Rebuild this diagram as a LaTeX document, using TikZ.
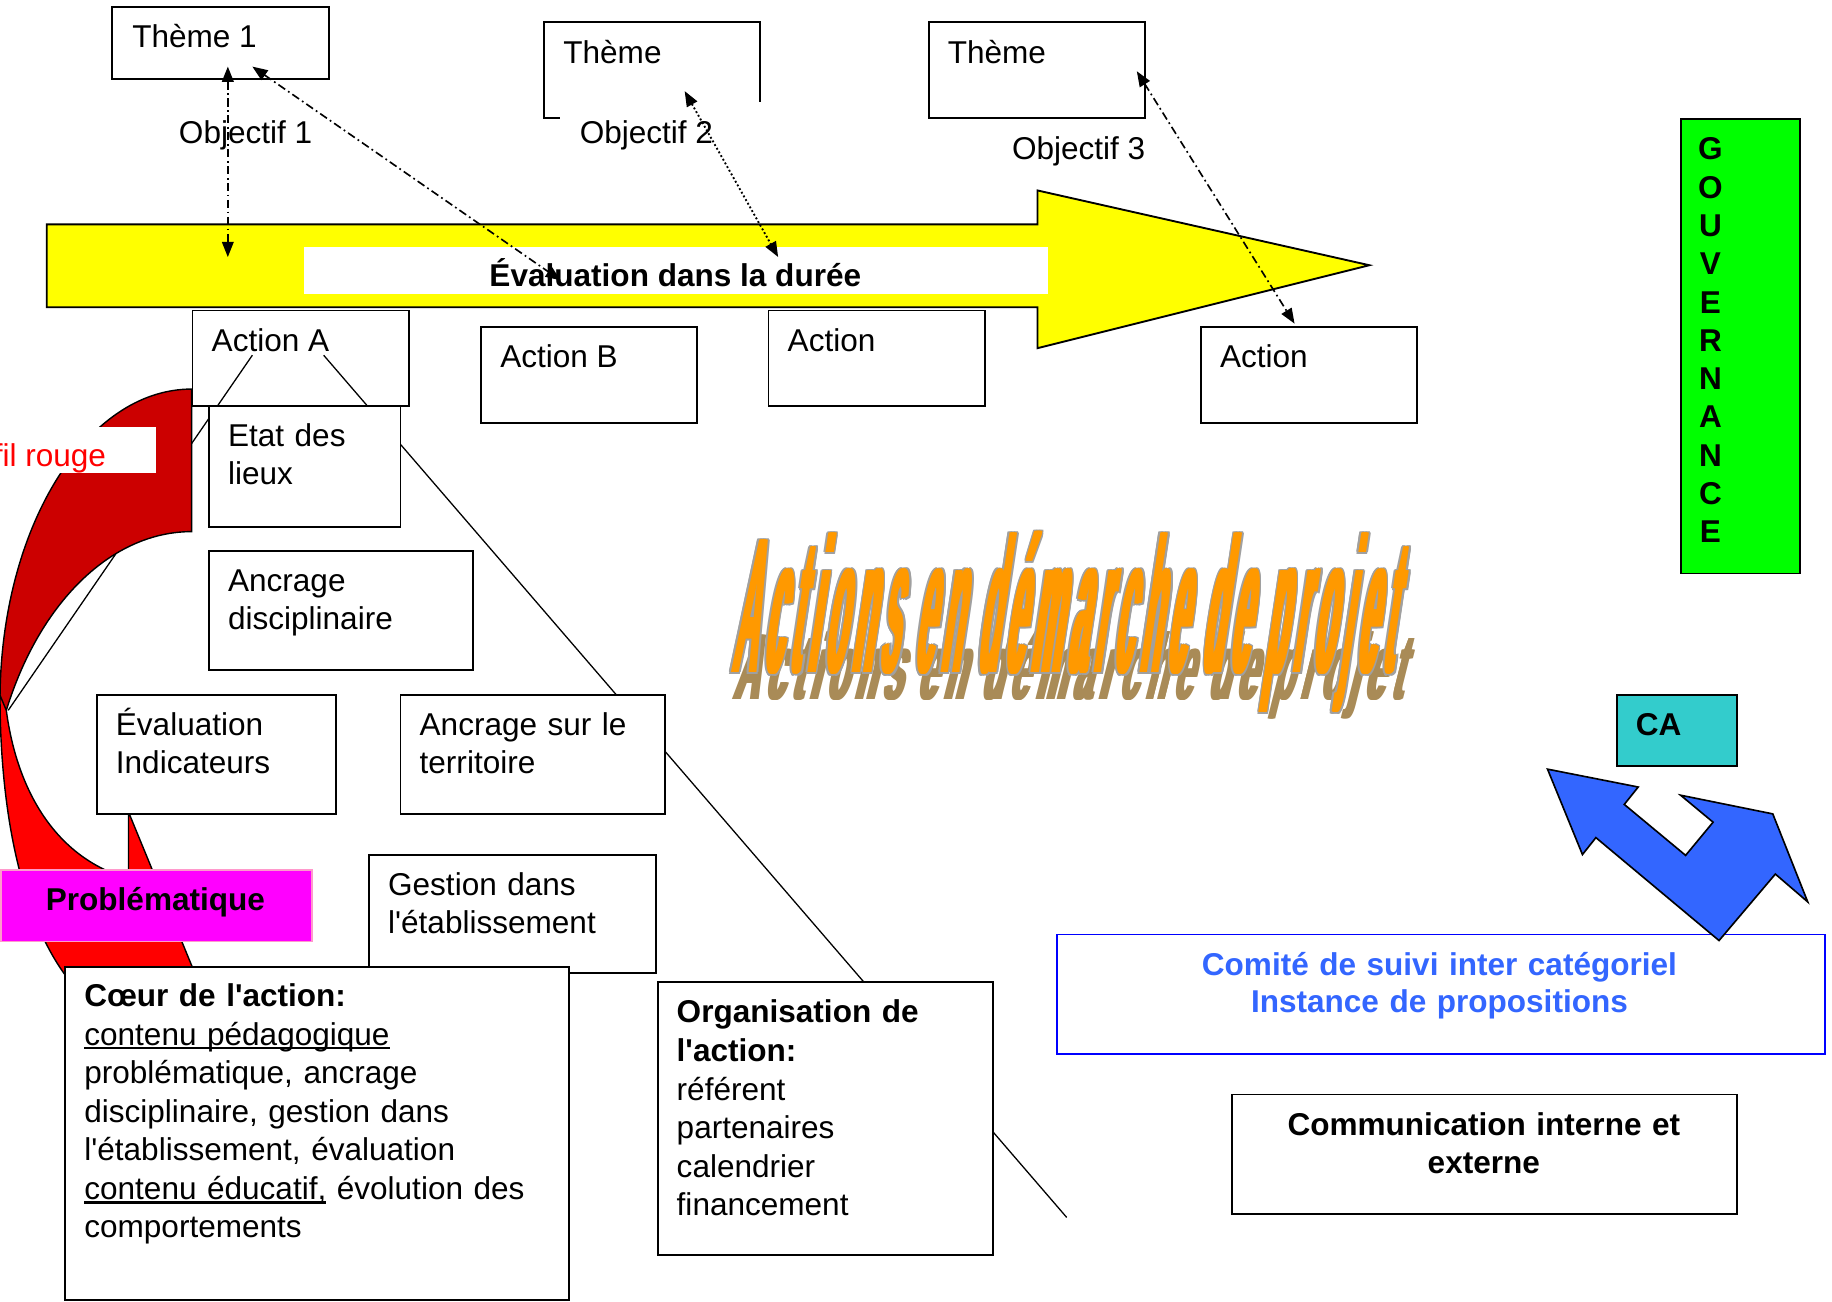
\documentclass[tikz,border=0pt]{standalone}
\usepackage{fontspec}
\newfontfamily\arialf{Liberation Sans}
\newfontfamily\ttlf{Liberation Sans}[LetterSpace=21]
\usetikzlibrary{arrows.meta,calc}
\definecolor{yel}{HTML}{FFFF00}
\definecolor{redD}{HTML}{CC0000}
\definecolor{redB}{HTML}{FF0000}
\definecolor{mag}{HTML}{FF00FF}
\definecolor{magB}{HTML}{FF99CC}
\definecolor{grn}{HTML}{00FF00}
\definecolor{tealC}{HTML}{33CCCC}
\definecolor{bluA}{HTML}{3366FF}
\definecolor{bluB}{HTML}{0000FF}
\definecolor{org}{HTML}{FF9900}
\definecolor{ogray}{HTML}{A0A0A0}
\definecolor{shd}{HTML}{A98B57}
\newcommand\myul[1]{\leavevmode\setbox0=\hbox{#1}\rlap{\rule[-3.6pt]{\wd0}{1.8pt}}\box0\relax}
\newcommand\ttltext{Actions en démarche de projet}
\begin{document}
\begin{tikzpicture}[x=1pt,y=-1pt,
  box/.style={draw=black, line width=1.6pt, fill=white, rectangle, inner sep=0pt, anchor=north west},
  txt/.style={font=\arialf\fontsize{27}{32.5}\selectfont, inner sep=0pt, anchor=base west},
  mtxt/.style={txt, align=left, text width=#1},
  btxt/.style={font=\arialf\bfseries\fontsize{27}{32.5}\selectfont, inner sep=0pt},
  conn/.style={line width=1.1pt},
  >={Triangle[length=13pt,width=10pt]},
  dd/.style={line width=1.4pt, dash pattern=on 7pt off 3pt on 1.5pt off 3pt, <->},
  dots/.style={line width=1.6pt, dash pattern=on 1.6pt off 2pt, <->},
  ttl/.style={font=\ttlf\bfseries\fontsize{40}{40}\selectfont, inner sep=0pt, anchor=base, xslant=0.15, xscale=0.72, yscale=4.12},
  shdt/.style={font=\ttlf\bfseries\fontsize{40}{40}\selectfont, inner sep=0pt, anchor=base, xslant=0.25, xscale=0.728, yscale=2.0, text=shd}
]
\useasboundingbox (0,0) rectangle (1568,1114);

% ---- yellow arrow ----
\draw[fill=yel, line width=1.6pt] (40,192) -- (888,192) -- (888,163) -- (1172,227) -- (888,298) -- (888,263) -- (40,263) -- cycle;
\node[fill=white, inner sep=0pt, minimum width=637pt, minimum height=40pt, anchor=north west] (evbar) at (260,211) {};
\node[btxt, anchor=base] (evtxt) at (578,245.5) {Évaluation dans la durée};

% ---- themes ----
\node[box, minimum width=186pt, minimum height=62pt] (th1) at (95,5) {};
\node[txt] (th1t) at ($(th1.north west)+(18,35.5)$) {Thème 1};
\node[box, minimum width=185pt, minimum height=82pt] (th2) at (465,18) {};
\node[txt] (th2t) at ($(th2.north west)+(17,36.5)$) {Thème};
\node[box, minimum width=185pt, minimum height=82pt] (th3) at (794,18) {};
\node[txt] (th3t) at ($(th3.north west)+(17,36.5)$) {Thème};
\node[txt] (ob1) at (153,122.5) {Objectif 1};
\node[fill=white, inner sep=0pt, minimum width=178pt, minimum height=55pt, anchor=north west] (ob2bg) at (479,87) {};
\node[txt] (ob2) at (496,122.5) {Objectif 2};
\node[txt] (ob3) at (866,136.5) {Objectif 3};

% ---- actions ----
\node[box, minimum width=185pt, minimum height=82pt] (actA) at (164,265) {};
\node[txt] (actAt) at ($(actA.north west)+(17,35.5)$) {Action A};
\node[box, minimum width=185pt, minimum height=82pt] (actB) at (411,279) {};
\node[txt] (actBt) at ($(actB.north west)+(17,35.5)$) {Action B};
\node[box, minimum width=185pt, minimum height=82pt] (actC) at (657,265) {};
\node[txt] (actCt) at ($(actC.north west)+(17,35.5)$) {Action};
\node[box, minimum width=185pt, minimum height=82pt] (actD) at (1027,279) {};
\node[txt] (actDt) at ($(actD.north west)+(17,35.5)$) {Action};

% ---- thin lines from Action A ----
\coordinate (la1) at (216,304);
\coordinate (la2) at (7,608);
\coordinate (lb1) at (277,304);
\coordinate (lb2) at (913,1042);
\draw[conn] (la1) -- (la2);
\draw[conn] (lb1) -- (lb2);

% ---- red curved arrow (fil rouge) ----
\draw[fill=redD, line width=1.2pt] (164,333) .. controls (73.4,333) and (0,452.5) .. (0,600) -- (5.4,608) .. controls (34.1,514.7) and (96,455) .. (164,455) -- cycle;
\draw[fill=redB, line width=1.2pt] (0,595) .. controls (0,700) and (20,790) .. (60,840) -- (90,875) -- (182,870) -- (110,695) -- (110,752) .. controls (50,735) and (15,680) .. (5.4,608) -- cycle;
\node[fill=white, inner sep=0pt, minimum width=138pt, minimum height=40pt, anchor=north west] (filbg) at (-5,365) {};
\node[txt, text=redB, anchor=base east] (filt) at (91,399.5) {fil rouge};

% ---- detail boxes ----
\node[box, minimum width=164pt, minimum height=103pt] (etat) at (178,347) {};
\node[mtxt=150pt] (etatt) at ($(etat.north west)+(17,35.5)$) {Etat des\\lieux};
\node[box, minimum width=226pt, minimum height=102pt] (ancd) at (178,471) {};
\node[mtxt=205pt] (ancdt) at ($(ancd.north west)+(17,35.5)$) {Ancrage\\disciplinaire};
\node[box, minimum width=205pt, minimum height=102pt] (evi) at (82,594) {};
\node[mtxt=185pt] (evit) at ($(evi.north west)+(17,35.5)$) {Évaluation\\Indicateurs};
\node[box, minimum width=226pt, minimum height=102pt] (anct) at (342,594) {};
\node[mtxt=205pt] (anctt) at ($(anct.north west)+(17,35.5)$) {Ancrage sur le\\territoire};
\node[box, minimum width=246pt, minimum height=101pt] (gest) at (315,731) {};
\node[mtxt=225pt] (gestt) at ($(gest.north west)+(17,35.5)$) {Gestion dans\\l'établissement};
\node[box, draw=magB, fill=mag, minimum width=266pt, minimum height=61pt] (prob) at (0,744) {};
\node[btxt, anchor=base] (probt) at (133,779.5) {Problématique};
\node[box, minimum width=431pt, minimum height=285pt] (coeur) at (55,827) {};
\node[mtxt=410pt, font=\arialf\fontsize{27}{33}\selectfont] (coeurt) at ($(coeur.north west)+(17,34.5)$) {\textbf{Cœur de l'action:}\\\myul{contenu pédagogique}\\problématique, ancrage\\disciplinaire, gestion dans\\l'établissement, évaluation\\\myul{contenu éducatif,} évolution des\\comportements};
\node[box, minimum width=287pt, minimum height=233pt] (orga) at (562,840) {};
\node[mtxt=265pt, font=\arialf\fontsize{27}{33}\selectfont] (orgat) at ($(orga.north west)+(17,35.5)$) {\textbf{Organisation de}\\\textbf{l'action:}\\référent\\partenaires\\calendrier\\financement};

% ---- title word art ----
\foreach \dx [count=\k] in {-1.6,-0.8,0,0.8,1.6}{
  \begin{scope}[shift={({914+\dx},599)}]
    \node[shdt] (ts\k) at (0,0) {\ttltext};
  \end{scope}
}
\foreach \dx/\dy [count=\k] in {-2.9/0,2.9/0,-2/-1.3,0/-1.3,2/-1.3,-2/1.3,0/1.3,2/1.3,-2.6/-0.9,2.6/-0.9,-2.6/0.9,2.6/0.9}{
  \begin{scope}[shift={({909.5+\dx},{576+\dy})}]
    \node[ttl, text=ogray] (tg\k) at (0,0) {\ttltext};
  \end{scope}
}
\foreach \dx [count=\k] in {-1.5,-0.75,0,0.75,1.5}{
  \begin{scope}[shift={({909.5+\dx},576)}]
    \node[ttl, text=org] (to\k) at (0,0) {\ttltext};
  \end{scope}
}

% ---- right side ----
\node[box, fill=grn, minimum width=102pt, minimum height=389pt] (gov) at (1438,101) {};
\foreach \L [count=\i] in {G,O,U,V,E,R,N,A,N,C,E}{
  \node[btxt, anchor=base] (gv\i) at (1464,{136.7+32.8*(\i-1)}) {\L};
}
\node[box, fill=tealC, minimum width=103pt, minimum height=61pt] (ca) at (1383,594) {};
\node[btxt, anchor=base west] (cat) at ($(ca.north west)+(17,35.5)$) {CA};
\node[box, draw=bluB, minimum width=657pt, minimum height=102pt] (comite) at (904,799) {};
\node[btxt, text=bluA, align=center, text width=640pt, anchor=base] (comitet) at (1232,834.5) {Comité de suivi inter catégoriel\\Instance de propositions};
\node[box, minimum width=432pt, minimum height=102pt] (comm) at (1054,936) {};
\node[btxt, align=center, text width=420pt, anchor=base] (commt) at (1270,971.5) {Communication interne et\\externe};
\draw[fill=bluA, line width=1.4pt] (1324.5,658.3) -- (1402.1,673.6) -- (1390.2,688.5) -- (1442.7,732.1) -- (1466.2,703.7) -- (1438.4,680.6) -- (1517.3,696.6) -- (1547.2,771.9) -- (1519.5,748.1) -- (1471.3,805.0) -- (1365.9,716.9) -- (1354.4,731.4) -- cycle;

% ---- dotted connectors ----
\coordinate (p1a) at (195,57);
\coordinate (p1b) at (195,220);
\coordinate (p2a) at (216,57);
\coordinate (p2b) at (480,240);
\coordinate (p3a) at (586,78);
\coordinate (p3b) at (666,220);
\coordinate (p4a) at (973,61);
\coordinate (p4b) at (1108,277);
\draw[dd] (p1a) -- (p1b);
\draw[dd] (p2a) -- (p2b);
\draw[dots] (p3a) -- (p3b);
\draw[dd] (p4a) -- (p4b);
\end{tikzpicture}
\end{document}
